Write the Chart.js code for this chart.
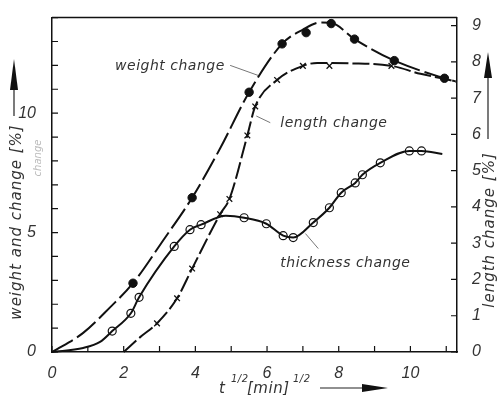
<!DOCTYPE html>
<html>
<head>
<meta charset="utf-8">
<script src="https://cdn.jsdelivr.net/npm/chart.js@4/dist/chart.umd.min.js"></script>
<style>
  body { margin: 0; background: #fff; }
  canvas { display: block; }
</style>
</head>
<body>
<canvas id="chart" width="498" height="395"></canvas>
<script>
// weight change [%], left axis (curve + filled dots)
const weightCurveX = [0, 0.87, 1.62, 2.26, 3.1, 3.91, 4.7, 5.5, 6.42, 7.0, 7.5, 7.79, 8.44, 9.55, 10.95, 11.26];
const weightCurveY = [0, 0.8, 1.87, 2.88, 4.67, 6.46, 8.55, 10.875, 12.9, 13.5, 13.8, 13.78, 13.1, 12.2, 11.46, 11.33];
const weightDotX = [2.26, 3.91, 5.5, 6.42, 7.09, 7.79, 8.44, 9.55, 10.95];
const weightDotY = [2.88, 6.46, 10.875, 12.9, 13.37, 13.75, 13.1, 12.2, 11.46];

// thickness change [%], left axis (curve + open circles)
const thickCurveX = [0, 0.87, 1.34, 1.68, 2.2, 2.43, 3.41, 3.85, 4.16, 4.85, 5.36, 5.98, 6.45, 6.73, 7.29, 7.74, 8.07, 8.46, 8.66, 9.16, 9.97, 10.31, 10.89];
const thickCurveY = [0, 0.17, 0.42, 0.875, 1.62, 2.29, 4.42, 5.12, 5.33, 5.7, 5.62, 5.37, 4.87, 4.79, 5.42, 6.04, 6.67, 7.08, 7.42, 7.92, 8.42, 8.42, 8.29];
const thickDotX = [1.68, 2.2, 2.43, 3.41, 3.85, 4.16, 5.36, 5.98, 6.45, 6.73, 7.29, 7.74, 8.07, 8.46, 8.66, 9.16, 9.97, 10.31];
const thickDotY = [0.875, 1.62, 2.29, 4.42, 5.12, 5.33, 5.62, 5.37, 4.87, 4.79, 5.42, 6.04, 6.67, 7.08, 7.42, 7.92, 8.42, 8.42];

// length change [%], right axis (curve + crosses)
const lengthCurveX = [2.0, 2.46, 2.93, 3.49, 3.91, 4.69, 4.95, 5.45, 5.67, 6.28, 7.0, 7.4, 8.3, 9.47, 10.28, 10.95, 11.3];
const lengthCurveY = [0, 0.41, 0.79, 1.48, 2.3, 3.8, 4.22, 5.97, 6.77, 7.5, 7.89, 7.97, 7.96, 7.89, 7.67, 7.53, 7.45];
const lengthCrossX = [2.93, 3.49, 3.91, 4.69, 4.95, 5.45, 5.67, 6.28, 7.0, 7.74, 9.47];
const lengthCrossY = [0.79, 1.48, 2.3, 3.8, 4.22, 5.97, 6.77, 7.5, 7.89, 7.89, 7.89];

// tick labels
const xTickLabels = [0, 2, 4, 6, 8, 10];
const leftTickLabels = [0, 5, 10];
const rightTickLabels = [0, 1, 2, 3, 4, 5, 6, 7, 8, 9];

const ink = '#111';
const tickFont = { family: "'Liberation Sans Narrow', 'Liberation Sans'", size: 16, style: 'italic' };
const textFont = "italic 14px 'DejaVu Sans'";

function pts(xs, ys) {
    return xs.map((x, i) => ({ x: x, y: ys[i] }));
}

// curve labels, placed in data units (left axis)
const notes = [
    { text: 'weight change', x: 1.76, y: 11.96, from: [4.97, 12.0], to: [5.75, 11.58] },
    { text: 'length change', x: 6.37, y: 9.58, from: [6.09, 9.6], to: [5.7, 9.88] },
    { text: 'thickness change', x: 6.37, y: 3.71, from: [7.43, 4.33], to: [7.07, 4.96] }
];

function arrowUp(ctx, x, tipY, baseY, endY) {
    ctx.beginPath();
    ctx.moveTo(x, baseY);
    ctx.lineTo(x, endY);
    ctx.stroke();
    ctx.beginPath();
    ctx.moveTo(x, tipY);
    ctx.lineTo(x - 4, baseY);
    ctx.lineTo(x + 4, baseY);
    ctx.closePath();
    ctx.fill();
}

const extras = {
    id: 'extras',
    afterDraw(chart) {
        const ctx = chart.ctx;
        const xs = chart.scales.x, ys = chart.scales.y, y2 = chart.scales.y2;
        const area = chart.chartArea;
        ctx.save();
        ctx.strokeStyle = ink;
        ctx.fillStyle = ink;

        // top frame line
        ctx.lineWidth = 1.5;
        ctx.beginPath();
        ctx.moveTo(area.left, area.top);
        ctx.lineTo(area.right, area.top);
        ctx.stroke();

        // inward ticks
        ctx.lineWidth = 1.2;
        ctx.beginPath();
        xs.ticks.forEach(t => {
            const px = xs.getPixelForValue(t.value);
            ctx.moveTo(px, area.bottom);
            ctx.lineTo(px, area.bottom - 6);
        });
        ys.ticks.forEach(t => {
            const py = ys.getPixelForValue(t.value);
            ctx.moveTo(area.left, py);
            ctx.lineTo(area.left + 6, py);
        });
        y2.ticks.forEach(t => {
            const py = y2.getPixelForValue(t.value);
            ctx.moveTo(area.right, py);
            ctx.lineTo(area.right - 6, py);
        });
        ctx.stroke();

        // curve labels and leader lines
        ctx.font = textFont;
        ctx.letterSpacing = '0.5px';
        ctx.fillStyle = '#333';
        ctx.textBaseline = 'middle';
        ctx.textAlign = 'left';
        ctx.strokeStyle = '#777';
        ctx.lineWidth = 1;
        notes.forEach(n => {
            ctx.fillText(n.text, xs.getPixelForValue(n.x), ys.getPixelForValue(n.y));
            ctx.beginPath();
            ctx.moveTo(xs.getPixelForValue(n.from[0]), ys.getPixelForValue(n.from[1]));
            ctx.lineTo(xs.getPixelForValue(n.to[0]), ys.getPixelForValue(n.to[1]));
            ctx.stroke();
        });

        // left axis title
        ctx.fillStyle = '#333';
        ctx.font = "italic 15px 'DejaVu Sans'";
        ctx.letterSpacing = '1px';
        ctx.textAlign = 'center';
        ctx.save();
        ctx.translate(17, 222);
        ctx.rotate(-Math.PI / 2);
        ctx.fillText('weight and change [%]', 0, 0);
        ctx.restore();

        // faint handwritten note
        ctx.save();
        ctx.fillStyle = '#bbb';
        ctx.font = "italic 10px 'DejaVu Sans'";
        ctx.letterSpacing = '0px';
        ctx.translate(38, 158);
        ctx.rotate(-Math.PI / 2);
        ctx.fillText('change', 0, 0);
        ctx.restore();

        // right axis title
        ctx.save();
        ctx.translate(490, 230);
        ctx.rotate(-Math.PI / 2);
        ctx.fillText('length change [%]', 0, 0);
        ctx.restore();

        // x axis title
        ctx.letterSpacing = '0.5px';
        ctx.textAlign = 'left';
        ctx.textBaseline = 'alphabetic';
        ctx.font = "italic 15px 'DejaVu Sans'";
        ctx.fillText('t', 219, 393);
        ctx.fillText('[min]', 247, 393);
        ctx.font = "italic 10px 'DejaVu Sans'";
        ctx.fillText('1/2', 231, 382);
        ctx.fillText('1/2', 293, 382);

        // arrows
        ctx.strokeStyle = '#222';
        ctx.fillStyle = '#111';
        ctx.lineWidth = 1.2;
        arrowUp(ctx, 14, 59, 90, 116);
        arrowUp(ctx, 488, 52, 78, 139);
        ctx.beginPath();
        ctx.moveTo(320, 388);
        ctx.lineTo(364, 388);
        ctx.stroke();
        ctx.beginPath();
        ctx.moveTo(388, 388);
        ctx.lineTo(362, 384);
        ctx.lineTo(362, 392);
        ctx.closePath();
        ctx.fill();

        ctx.restore();
    }
};

const curveStyle = {
    showLine: true,
    pointRadius: 0,
    borderColor: ink,
    borderWidth: 2,
    fill: false,
    cubicInterpolationMode: 'monotone'
};

new Chart(document.getElementById('chart'), {
    type: 'line',
    data: {
        datasets: [
            Object.assign({ data: pts(weightCurveX, weightCurveY), yAxisID: 'y', borderDash: [24, 5] }, curveStyle),
            Object.assign({ data: pts(thickCurveX, thickCurveY), yAxisID: 'y' }, curveStyle),
            Object.assign({ data: pts(lengthCurveX, lengthCurveY), yAxisID: 'y2', borderDash: [17, 4] }, curveStyle),
            {
                data: pts(weightDotX, weightDotY), yAxisID: 'y', showLine: false,
                pointRadius: 4.2, pointBackgroundColor: ink, pointBorderColor: ink, pointBorderWidth: 1
            },
            {
                data: pts(thickDotX, thickDotY), yAxisID: 'y', showLine: false,
                pointRadius: 4, pointBackgroundColor: '#fff', pointBorderColor: ink, pointBorderWidth: 1.2
            },
            {
                data: pts(lengthCrossX, lengthCrossY), yAxisID: 'y2', showLine: false,
                pointStyle: 'crossRot', pointRadius: 4, pointBorderColor: ink, pointBorderWidth: 1.3
            }
        ]
    },
    options: {
        responsive: false,
        animation: false,
        clip: false,
        layout: { padding: { top: 15, left: 0, right: 0, bottom: 0 } },
        plugins: { legend: { display: false }, tooltip: { enabled: false } },
        scales: {
            x: {
                type: 'linear', min: 0, max: 11.3,
                grid: { display: false },
                border: { color: ink, width: 1.5 },
                ticks: {
                    stepSize: 1, includeBounds: false, autoSkip: false, maxRotation: 0,
                    padding: 4, color: '#333', font: tickFont,
                    callback: v => xTickLabels.includes(v) ? String(v) : ''
                },
                afterFit: s => { s.height = 43; }
            },
            y: {
                position: 'left', min: 0, max: 14,
                grid: { display: false },
                border: { color: ink, width: 1.5 },
                ticks: {
                    stepSize: 1, includeBounds: false, autoSkip: false,
                    padding: 8, color: '#333', font: tickFont,
                    callback: v => leftTickLabels.includes(v) ? String(v) : ''
                },
                afterFit: s => { s.width = 52; }
            },
            y2: {
                position: 'right', min: 0, max: 9.22,
                grid: { display: false },
                border: { color: ink, width: 1.5 },
                ticks: {
                    stepSize: 1, includeBounds: false, autoSkip: false,
                    padding: 7, color: '#333', font: tickFont,
                    callback: v => rightTickLabels.includes(v) ? String(v) : ''
                },
                afterFit: s => { s.width = 41; }
            }
        }
    },
    plugins: [extras]
});
</script>
</body>
</html>
